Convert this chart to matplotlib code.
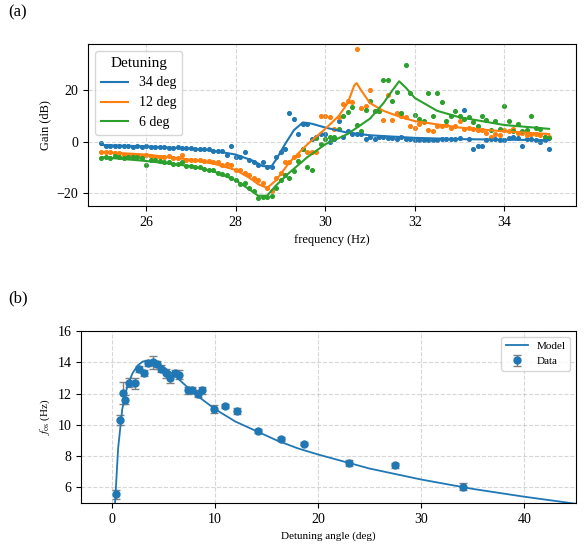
import numpy as np
import matplotlib.pyplot as plt

plt.rcParams['font.family'] = ['Liberation Serif', 'DejaVu Serif']
plt.rcParams['mathtext.fontset'] = 'stix'

# panel (a): gain vs frequency, measured points on a 0.1 Hz grid
freq = np.round(np.arange(25.0, 35.05, 0.1), 1)
gain_34 = [-0.5, -1.5, -1.5, -1.5, -1.5, -1.5, -1.5, -2, -1.5, -2,
           -1.5, -2, -2, -2, -2, -2.5, -2.5, -2, -2.5, -2.5,
           -2.5, -3, -3, -3, -3, -3.5, -3.5, -3.5, -5, -1.5,
           -6, -6, -4, -7, -8, -9, -8, -10, -10, -6,
           -4, -3, 11, 9, 3, 7, 7, 1, 2, 3,
           3, 0, 1, 8, 2, 4, 3, 3, 3, 1,
           2, 1, 2, 2, 1.5, 1.5, 1, 2, 1, 1,
           0.5, 0.5, 0.5, 0.5, 0.5, 0.5, 1, 1, 1, 1,
           1.5, 12.5, 1, -3, -1.5, -1.5, 0.5, 1, 1, 0.5,
           0.5, 1.5, 2, 1.5, -1.5, 1, 1, 0.5, 0, 0.5,
           -3]
gain_12 = [-4, -4, -4, -4.5, -4.5, -5, -5, -5, -5, -5.5,
           -5, -5.5, -6, -6, -6, -5.5, -6.5, -6.5, -5, -7,
           -7, -7, -7, -7.5, -7.5, -8, -8, -9, -8.5, -9,
           -11, -11, -12, -13, -14, -15, -16, -18, -19, -14,
           -12, -8, -8, -6, -5, -3, -4, -4, -4, 10,
           10, 9.5, 5, 9.5, 14.5, 16, 15.5, 36, 13, 14,
           20, 12, 12, 8.5, 18, 8.5, 11, 10, 9.5, 6,
           5.5, 7, 7.5, 4.5, 4, 6, 6, 6.5, 5.5, 6,
           8, 5, 5.5, 5, 4.5, 4.5, 3.5, 2, 3, 2.5,
           4.5, 4, 5, 3.5, 3.5, 2.5, 3, 3, 2.5, 2,
           2]
gain_6 = [-6.5, -6, -6.5, -5.5, -6, -6.5, -6, -6, -6, -6.5,
          -9, -7, -7, -7.5, -8, -8, -8.5, -8.5, -8, -9.5,
          -9.5, -10, -10, -10.5, -11, -11, -12, -12.5, -13, -14,
          -15, -16.5, -16, -18, -19, -22, -21.5, -21.5, -21, -18,
          -15, -13, -14, -11.5, -7.5, -3, -10, -11, 1.5, -1,
          1, 2, 2, 5, 10, 11.5, 13.5, 6.5, 4, 12.5,
          16, 12, 12, 24, 24, 16, 19.5, 11, 30, 19,
          10.5, 9, 8, 19, 10, 19, 15.5, 8, 10, 12,
          10, 9, 9.5, 7.5, 6, 10, 8.5, 4.5, 8, 5,
          14, 8, 4, 7, 4, 4.5, 10, 5.5, 5, 2,
          1.5]

# fitted curves
fit34_f = [25, 26, 27, 27.5, 28, 28.4, 28.6, 28.8, 28.9, 29.1, 29.3, 29.5, 29.7, 30, 30.5, 31, 32, 33, 34, 35]
fit34_g = [-1.3, -1.8, -2.7, -3.5, -5, -7.5, -9.5, -9.5, -7, -1, 4.5, 7.5, 7, 5.5, 3.5, 2.5, 1.5, 1, 0.8, 0.6]
fit12_f = [25, 26, 27, 27.5, 28, 28.3, 28.5, 28.7, 28.9, 29.2, 29.6, 30, 30.3, 30.5, 30.65, 30.7, 30.8, 31, 31.3, 31.7, 32, 33, 34, 35]
fit12_g = [-4, -5, -7, -8.5, -11, -14, -16.5, -18, -15, -8, -1, 5, 10, 15, 22, 22.8, 20, 15, 12, 9.5, 8, 5.5, 4, 3]
fit6_f = [25, 26, 27, 27.5, 28, 28.3, 28.5, 28.7, 28.9, 29.2, 29.6, 30, 30.5, 31, 31.3, 31.5, 31.65, 31.8, 32, 32.5, 33, 34, 35]
fit6_g = [-6, -7.5, -9.5, -11.5, -15, -18.5, -21, -21, -17, -12, -6, -1, 3, 9, 15, 20, 23.5, 21, 17, 12, 9.5, 6.5, 5]

# panel (b): oscillation frequency vs detuning
det = [0.4, 0.8, 1.1, 1.3, 1.7, 2.2, 2.6, 3.1, 3.5, 4.0, 4.4, 4.8, 5.2, 5.6, 6.1, 6.5,
       7.4, 7.8, 8.3, 8.7, 9.9, 11.0, 12.1, 14.2, 16.4, 18.6, 23.0, 27.4, 34.0]
fos = [5.55, 10.3, 12.05, 11.6, 12.7, 12.65, 13.55, 13.3, 13.95, 14.0, 13.9, 13.6, 13.3, 13.0,
       13.3, 13.2, 12.2, 12.25, 12.0, 12.2, 11.0, 11.2, 10.9, 9.6, 9.1, 8.8, 7.55, 7.4, 6.05]
fos_err = [0.3, 0.3, 0.7, 0.3, 0.3, 0.35, 0.2, 0.2, 0.2, 0.4, 0.2, 0.2, 0.3, 0.3, 0.2, 0.3,
           0.25, 0.2, 0.25, 0.2, 0.25, 0.15, 0.2, 0.15, 0.15, 0.1, 0.2, 0.15, 0.2]
model_d = [0.3, 0.6, 1, 1.5, 2, 2.5, 3, 3.5, 4, 5, 6, 7, 8, 10, 12, 14, 16, 18, 20, 25, 30, 35, 40, 45]
model_f = [5, 8.5, 11, 12.5, 13.3, 13.8, 14.05, 14.1, 14.05, 13.7, 13.2, 12.6, 12.0, 11.0, 10.2,
           9.6, 9.0, 8.5, 8.1, 7.2, 6.5, 5.9, 5.4, 4.95]

fig = plt.figure(figsize=(5.86, 5.45), dpi=100)
ax1 = fig.add_axes([88/586, 1-206/545, 488/586, 162/545])
ax2 = fig.add_axes([81/586, 1-503/545, 495/586, 172/545])

cols = ['#1f77b4', '#ff7f0e', '#2ca02c']
for g, ff, fg, c, lab in [(gain_34, fit34_f, fit34_g, cols[0], '34 deg'),
                          (gain_12, fit12_f, fit12_g, cols[1], '12 deg'),
                          (gain_6, fit6_f, fit6_g, cols[2], '6 deg')]:
    ax1.scatter(freq, g, s=7, color=c)
    ax1.plot(ff, fg, color=c, lw=1.5, label=lab)
ax1.set_xlim(24.7, 35.6)
ax1.set_ylim(-25, 38)
ax1.set_yticks([-20, 0, 20])
ax1.set_xticks([26, 28, 30, 32, 34])
ax1.set_xlabel('frequency (Hz)', fontsize=9)
ax1.set_ylabel('Gain (dB)', fontsize=9)
ax1.tick_params(labelsize=10)
ax1.grid(True, ls='--', alpha=0.5)
ax1.legend(title='Detuning', loc='upper left', fontsize=10, title_fontsize=11)

ax2.errorbar(det, fos, yerr=fos_err, fmt='o', ms=5, color=cols[0], ecolor='gray',
             capsize=3, elinewidth=1, label='Data')
ax2.plot(model_d, model_f, color=cols[0], lw=1.3, label='Model')
ax2.set_xlim(-3, 45)
ax2.set_ylim(5, 16)
ax2.set_yticks([6, 8, 10, 12, 14, 16])
ax2.set_xlabel('Detuning angle (deg)', fontsize=8)
ax2.set_ylabel(r'$f_{\rm os}$ (Hz)', fontsize=8)
ax2.tick_params(labelsize=10)
ax2.grid(True, ls='--', alpha=0.5)
ax2.legend(loc='upper right', fontsize=8)

fig.text(8/586, 1-12/545, '(a)', fontsize=12, va='center')
fig.text(8/586, 1-298/545, '(b)', fontsize=12, va='center')

fig.savefig('out.png', dpi=100)
